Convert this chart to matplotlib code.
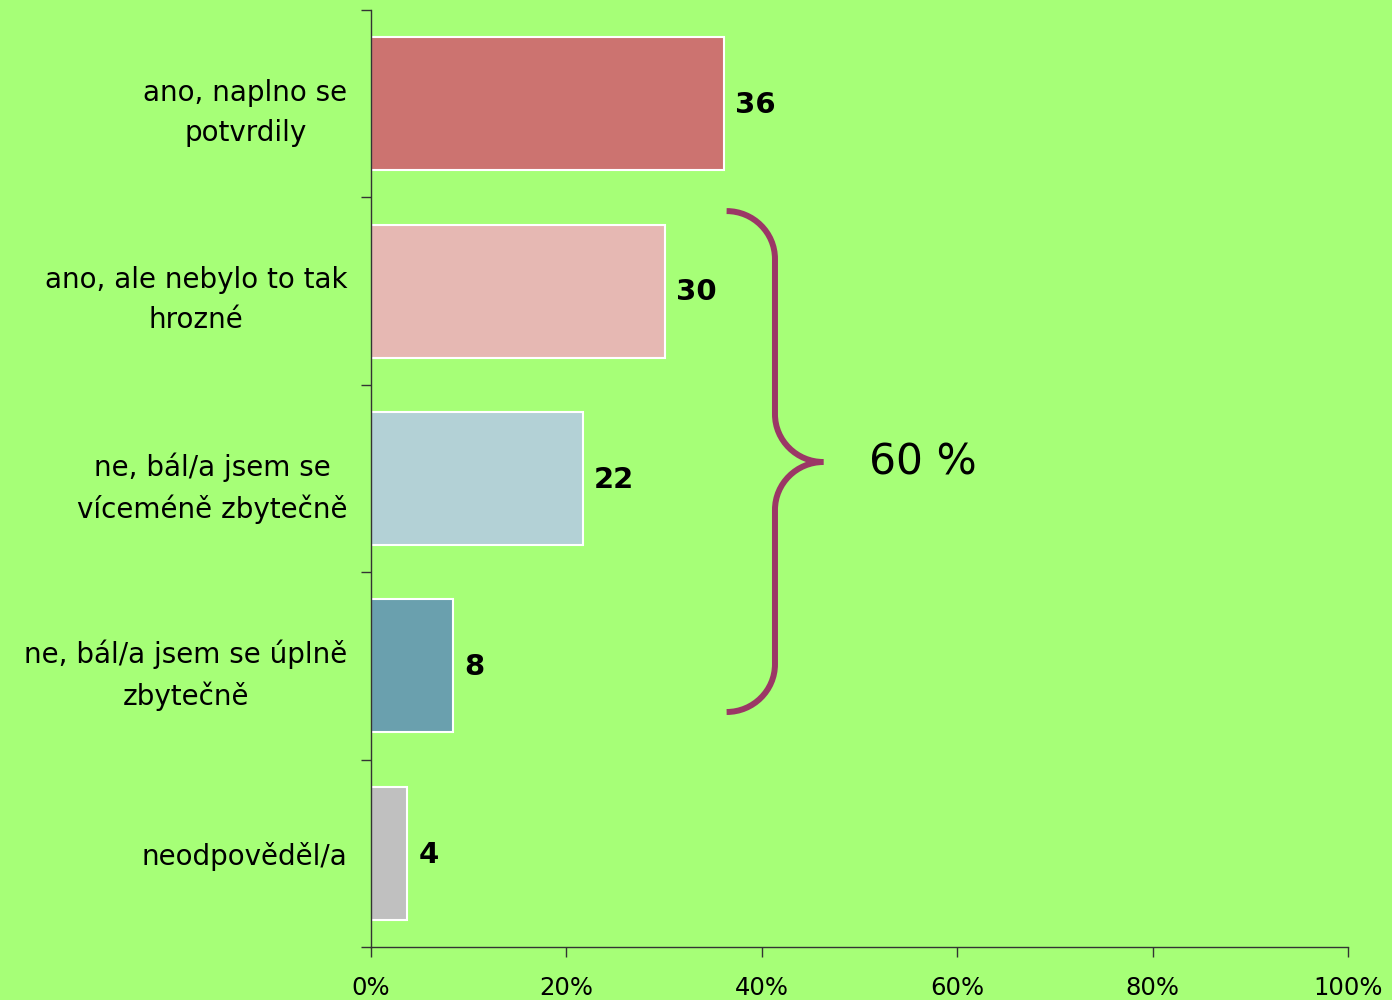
import matplotlib.pyplot as plt
from matplotlib.path import Path
from matplotlib.patches import PathPatch
import numpy as np

categories = ["ano, naplno se\npotvrdily",
              "ano, ale nebylo to tak\nhrozné",
              "ne, bál/a jsem se\nvíceméně zbytečně",
              "ne, bál/a jsem se úplně\nzbytečně",
              "neodpověděl/a"]
values = [36.1, 30.1, 21.7, 8.4, 3.7]
value_labels = ["36", "30", "22", "8", "4"]
colors = ["#CC7370", "#E6B8B3", "#B3D1D6", "#6AA0AE", "#C0C0C0"]
x_ticks = [0, 20, 40, 60, 80, 100]
x_ticklabels = ["0%", "20%", "40%", "60%", "80%", "100%"]
bracket_text = "60 %"

bg = "#A6FF77"

fig = plt.figure(figsize=(13.92, 10), dpi=100, facecolor=bg)
ax = fig.add_axes([0.2665, 0.053, 0.7019, 0.937], facecolor=bg)

y = np.arange(len(categories))
bars = ax.barh(y, values, height=0.71, color=colors, edgecolor="white", linewidth=1.5)

for b, lab in zip(bars, value_labels):
    ax.annotate(lab, (b.get_width(), b.get_y() + b.get_height() / 2),
                xytext=(8, -1), textcoords="offset points",
                ha="left", va="center", fontsize=21, fontweight="bold")

ax.set_xlim(0, 100)
ax.set_ylim(len(categories) - 0.5, -0.5)

ax.set_xticks(x_ticks)
ax.set_xticklabels(x_ticklabels, fontsize=17.5)
ax.tick_params(axis="x", length=7, width=1, pad=14, color="#333333")

ax.set_yticks(y)
ax.set_yticklabels(categories, fontsize=20, multialignment="center", linespacing=1.55)
ax.tick_params(axis="y", which="major", length=0, pad=17)
ax.set_yticks(np.arange(len(categories) + 1) - 0.5, minor=True)
ax.tick_params(axis="y", which="minor", length=7, width=1, color="#333333")

for s in ["top", "right"]:
    ax.spines[s].set_visible(False)
for s in ["left", "bottom"]:
    ax.spines[s].set_color("#333333")
    ax.spines[s].set_linewidth(1)

# curly brace spanning bars 2-4 (rounded corners as cubic arcs)
x0, x1, x2 = 36.4, 41.35, 46.3
ya, yt, yd = 0.573, 1.912, 3.246
dy = 0.255
k = 0.55
dx = x1 - x0
verts = [(x0, ya),
         (x0 + k * dx, ya), (x1, ya + (1 - k) * dy), (x1, ya + dy),
         (x1, yt - dy),
         (x1, yt - (1 - k) * dy), (x1 + (1 - k) * dx, yt), (x2, yt),
         (x1 + (1 - k) * dx, yt), (x1, yt + (1 - k) * dy), (x1, yt + dy),
         (x1, yd - dy),
         (x1, yd - (1 - k) * dy), (x0 + k * dx, yd), (x0, yd)]
codes = [Path.MOVETO,
         Path.CURVE4, Path.CURVE4, Path.CURVE4,
         Path.LINETO,
         Path.CURVE4, Path.CURVE4, Path.CURVE4,
         Path.CURVE4, Path.CURVE4, Path.CURVE4,
         Path.LINETO,
         Path.CURVE4, Path.CURVE4, Path.CURVE4]
ax.add_patch(PathPatch(Path(verts, codes), facecolor="none",
                       edgecolor="#9B3766", linewidth=4.3, clip_on=False))
ax.text(51, yt, bracket_text, fontsize=30.5, ha="left", va="center")

fig.savefig("out.png", dpi=100, facecolor=bg)
